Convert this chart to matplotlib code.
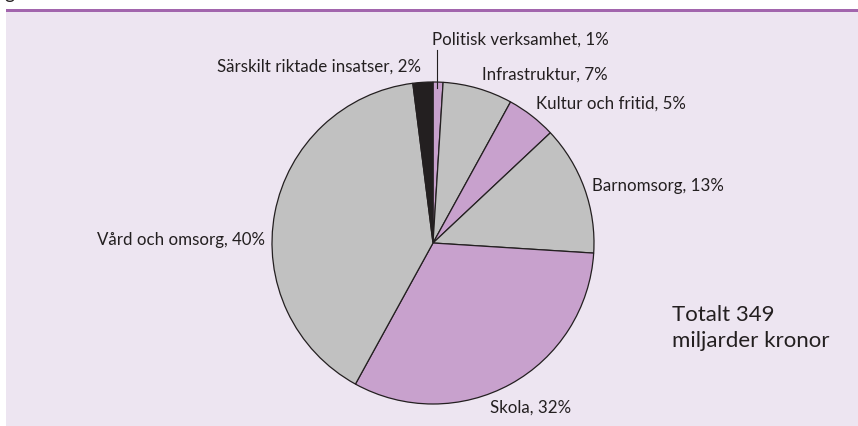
import matplotlib.pyplot as plt
from matplotlib.patches import Rectangle

categories = ['Politisk verksamhet', 'Infrastruktur', 'Kultur och fritid',
              'Barnomsorg', 'Skola', 'Vård och omsorg', 'Särskilt riktade insatser']
shares = [1, 7, 5, 13, 32, 40, 2]
total_text = 'Totalt 349\nmiljarder kronor'

purple = '#c8a1cd'
grey = '#c1c1c1'
black = '#231f20'
colors = [purple, grey, purple, grey, purple, grey, black]

# label anchor positions in image pixels (x, y from top), with alignment
label_pos = [
    (432, 40, 'left'),
    (482, 75, 'left'),
    (536, 104, 'left'),
    (592, 186, 'left'),
    (490, 408, 'left'),
    (265, 240, 'right'),
    (421, 67, 'right'),
]

W, H = 858, 426
plt.rcParams['font.family'] = ['Lato', 'DejaVu Sans']

fig = plt.figure(figsize=(W / 100, H / 100), dpi=100)
fig.patch.set_facecolor('white')
ax = fig.add_axes([0, 0, 1, 1])

# panel background and top rule
ax.add_patch(Rectangle((6, 0), W - 6, H - 11, facecolor='#ede5f1', edgecolor='none', zorder=0))
ax.add_patch(Rectangle((6, H - 12), W - 6, 3, facecolor='#a265ad', edgecolor='none', zorder=1))
ax.text(4, H + 1, 'g', fontsize=14, color=black, va='baseline', ha='left')

ax.pie(shares, colors=colors, startangle=90, counterclock=False,
       center=(433, H - 243), radius=161, frame=True,
       wedgeprops=dict(edgecolor=black, linewidth=0.9))
ax.set_xlim(0, W)
ax.set_ylim(0, H)
ax.axis('off')

for (name, val), (x, y, ha) in zip(zip(categories, shares), label_pos):
    ax.text(x, H - y, f'{name}, {val}%', fontsize=12.2, color=black,
            ha=ha, va='center')

# leader line for the small slice
ax.plot([437, 437], [H - 50, H - 88], color=black, linewidth=0.8)

ax.text(672, H - 328, total_text, fontsize=16, color=black,
        ha='left', va='center', linespacing=1.35)

fig.savefig('out.png', dpi=100, facecolor='white')
